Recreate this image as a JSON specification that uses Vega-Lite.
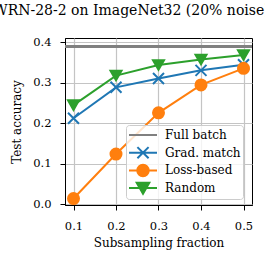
{
  "$schema": "https://vega.github.io/schema/vega-lite/v6.json",
  "width": 187,
  "height": 167,
  "autosize": {"type": "none"},
  "padding": {"left": 65, "top": 38, "right": 13, "bottom": 60},
  "title": {"text": "WRN-28-2 on ImageNet32 (20% noise)", "font": "DejaVu Serif", "fontSize": 14, "fontWeight": "normal", "color": "black", "anchor": "middle", "dx": -27, "offset": 18},
  "config": {
    "font": "DejaVu Serif",
    "view": {"stroke": "black", "strokeWidth": 1},
    "axis": {"domainColor": "black", "tickColor": "black", "labelColor": "black", "titleColor": "black", "labelFont": "DejaVu Serif", "titleFont": "DejaVu Serif", "labelFontSize": 11.5, "titleFontSize": 12, "titleFontWeight": "normal", "gridColor": "#c4c4c4", "gridWidth": 1.2, "tickSize": 5},
    "axisX": {"labelPadding": 10, "titlePadding": 6},
    "axisY": {"labelPadding": 9, "titlePadding": 9}
  },
  "data": {"values": [
    {"fraction": 0.1, "acc": 0.2125, "method": "Grad. match"},
    {"fraction": 0.2, "acc": 0.289, "method": "Grad. match"},
    {"fraction": 0.3, "acc": 0.311, "method": "Grad. match"},
    {"fraction": 0.4, "acc": 0.331, "method": "Grad. match"},
    {"fraction": 0.5, "acc": 0.345, "method": "Grad. match"},
    {"fraction": 0.1, "acc": 0.014, "method": "Loss-based"},
    {"fraction": 0.2, "acc": 0.124, "method": "Loss-based"},
    {"fraction": 0.3, "acc": 0.226, "method": "Loss-based"},
    {"fraction": 0.4, "acc": 0.295, "method": "Loss-based"},
    {"fraction": 0.5, "acc": 0.336, "method": "Loss-based"},
    {"fraction": 0.1, "acc": 0.245, "method": "Random"},
    {"fraction": 0.2, "acc": 0.318, "method": "Random"},
    {"fraction": 0.3, "acc": 0.344, "method": "Random"},
    {"fraction": 0.4, "acc": 0.358, "method": "Random"},
    {"fraction": 0.5, "acc": 0.369, "method": "Random"}
  ]},
  "encoding": {
    "x": {"field": "fraction", "type": "quantitative", "title": "Subsampling fraction", "scale": {"domain": [0.08, 0.52], "nice": false, "zero": false}, "axis": {"values": [0.1, 0.2, 0.3, 0.4, 0.5], "format": ".1f"}},
    "y": {"field": "acc", "type": "quantitative", "title": "Test accuracy", "scale": {"domain": [-0.002, 0.411], "nice": false, "zero": false}, "axis": {"values": [0, 0.1, 0.2, 0.3, 0.4], "format": ".1f"}}
  },
  "layer": [
    {
      "mark": {"type": "rule", "strokeWidth": 2.5},
      "encoding": {
        "x": null,
        "y": {"datum": 0.39, "type": "quantitative"},
        "color": {"datum": "Full batch", "type": "nominal"}
      }
    },
    {
      "mark": {"type": "line", "strokeWidth": 2},
      "encoding": {
        "color": {
          "field": "method", "type": "nominal",
          "scale": {"domain": ["Full batch", "Grad. match", "Loss-based", "Random"], "range": ["#808080", "#1f77b4", "#ff7f0e", "#2ca02c"]},
          "legend": {
            "title": null, "orient": "none", "legendX": 61, "legendY": 87,
            "fillColor": "rgba(255,255,255,0.8)", "strokeColor": "#cccccc", "cornerRadius": 3,
            "padding": 2, "labelFont": "DejaVu Serif", "labelFontSize": 12, "labelColor": "black",
            "symbolSize": 784, "symbolStrokeWidth": 2, "labelOffset": 7, "clipHeight": 16, "rowPadding": 1.7,
            "encode": {"symbols": {"update": {
              "shape": {"signal": "datum.value === 'Full batch' ? 'M-1,0H1' : datum.value === 'Grad. match' ? 'M-1,0H1M-0.4,-0.4L0.4,0.4M-0.4,0.4L0.4,-0.4' : datum.value === 'Loss-based' ? 'M-1,0H1M0.41,0A0.41,0.41,0,1,1,-0.41,0A0.41,0.41,0,1,1,0.41,0Z' : 'M-1,0H1M-0.45,-0.38L0.45,-0.38L0,0.4Z'"},
              "fill": {"signal": "datum.value === 'Full batch' ? '#808080' : datum.value === 'Grad. match' ? '#1f77b4' : datum.value === 'Loss-based' ? '#ff7f0e' : '#2ca02c'"},
              "stroke": {"signal": "datum.value === 'Full batch' ? '#808080' : datum.value === 'Grad. match' ? '#1f77b4' : datum.value === 'Loss-based' ? '#ff7f0e' : '#2ca02c'"},
              "opacity": {"value": 1}
            }}}
          }
        }
      }
    },
    {
      "mark": {"type": "point", "filled": true, "opacity": 1, "strokeWidth": 2, "size": 121},
      "encoding": {
        "color": {"field": "method", "type": "nominal"},
        "stroke": {"field": "method", "type": "nominal", "scale": {"domain": ["Grad. match", "Loss-based", "Random"], "range": ["#1f77b4", "#ff7f0e", "#2ca02c"]}, "legend": null},
        "shape": {"field": "method", "type": "nominal", "scale": {"domain": ["Grad. match", "Loss-based", "Random"], "range": ["M-1,-1L1,1M-1,1L1,-1", "circle", "triangle-down"]}, "legend": null}
      }
    }
  ]
}
